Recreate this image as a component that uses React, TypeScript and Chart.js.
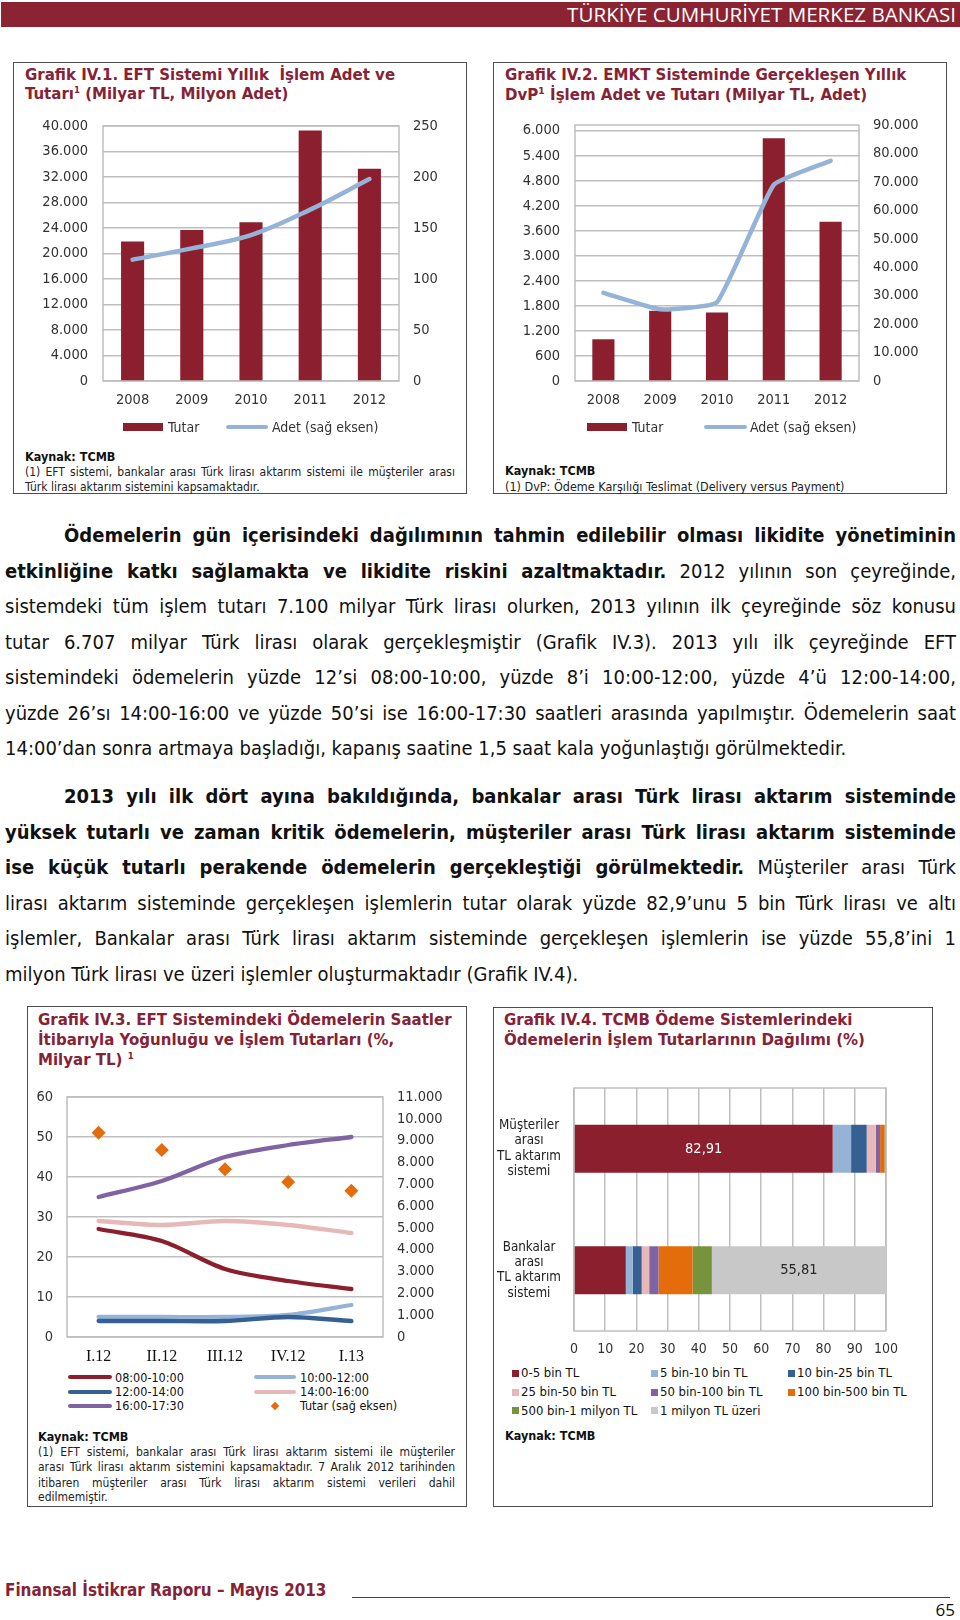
import React, { useEffect, useRef } from 'react';
import { Chart, registerables } from 'chart.js';

Chart.register(...registerables);

// ---------- data ----------
const eftYears = ['2008', '2009', '2010', '2011', '2012'];
const eftTutar = [21900, 23700, 24900, 39300, 33300];
const eftAdet = [119, 130, 143, 168, 198];

const dvpYears = ['2008', '2009', '2010', '2011', '2012'];
const dvpTutar = [1000, 1685, 1640, 5820, 3820];
const dvpAdet = [31000, 25200, 27700, 69000, 77400];
const dvpLeftTicks = [0, 600, 1200, 1800, 2400, 3000, 3600, 4200, 4800, 5400, 6000];

const quarters = ['I.12', 'II.12', 'III.12', 'IV.12', 'I.13'];
const h0810 = [27, 24, 17, 14, 12];
const h1012 = [5, 5, 5, 5.5, 8];
const h1214 = [4, 4, 4, 5, 4];
const h1416 = [29, 28, 29, 28, 26];
const h1617 = [35, 39, 45, 48, 50];
const eftQuarterTutar = [9360, 8570, 7690, 7100, 6707];

const systemLabels = [
  ['Müşteriler', 'arası', 'TL aktarım', 'sistemi'],
  ['Bankalar', 'arası', 'TL aktarım', 'sistemi'],
];
const bandNames = [
  '0-5 bin TL', '5 bin-10 bin TL', '10 bin-25 bin TL', '25 bin-50 bin TL',
  '50 bin-100 bin TL', '100 bin-500 bin TL', '500 bin-1 milyon TL', '1 milyon TL üzeri',
];
const musteriShares = [82.91, 5.9, 5.0, 2.9, 1.4, 1.4, 0.25, 0.24];
const bankalarShares = [16.6, 2.2, 2.9, 2.4, 3.0, 10.9, 6.19, 55.81];

// ---------- styles ----------
const F = "'DejaVu Sans Condensed', 'DejaVu Sans', sans-serif";
const SERIF = "'Liberation Serif', 'DejaVu Serif', serif";
const MAROON = '#8C1F2E';
const TITLE = '#862236';
const LBLUE = '#95B3D7';
const DBLUE = '#376092';
const PINK = '#E6B9B8';
const PURPLE = '#8064A2';
const ORANGE = '#E46C0A';
const GREEN = '#77933C';
const LGRAY = '#C8C8C8';
const GRID = '#BFBFBF';
const TICK = '#333333';
const bandColors = [MAROON, LBLUE, DBLUE, PINK, PURPLE, ORANGE, GREEN, LGRAY];

const fmtTR = (v: any) => String(v).replace(/\B(?=(\d{3})+(?!\d))/g, '.');

const framePlugin = {
  id: 'frame',
  beforeDatasetsDraw(chart: any) {
    const { ctx, chartArea } = chart;
    ctx.save();
    ctx.strokeStyle = GRID;
    ctx.lineWidth = 1.5;
    ctx.strokeRect(chartArea.left, chartArea.top, chartArea.right - chartArea.left, chartArea.bottom - chartArea.top);
    ctx.restore();
  },
};

const segLabelPlugin = {
  id: 'segLabels',
  afterDatasetsDraw(chart: any) {
    const ctx = chart.ctx;
    ctx.save();
    ctx.font = `14.5px ${F}`;
    ctx.textAlign = 'center';
    ctx.textBaseline = 'middle';
    chart.data.datasets.forEach((ds: any, di: number) => {
      const meta = chart.getDatasetMeta(di);
      meta.data.forEach((el: any, i: number) => {
        const v = ds.data[i];
        if (v < 50) return;
        const p = el.getProps(['x', 'base', 'y'], true);
        ctx.fillStyle = di === 0 ? '#FFFFFF' : '#262626';
        ctx.fillText(v.toFixed(2).replace('.', ','), (p.x + p.base) / 2, p.y);
      });
    });
    ctx.restore();
  },
};

const tickFont = (size: number, family = F) => ({ family, size });
const fitV = (w: number) => (s: any) => { s.width = w; s.paddingTop = 0; s.paddingBottom = 0; };
const fitH = (h: number) => (s: any) => { s.height = h; s.paddingLeft = 0; s.paddingRight = 0; };

function eftConfig(): any {
  return {
    type: 'bar',
    data: {
      labels: eftYears,
      datasets: [
        { type: 'line', label: 'Adet (sağ eksen)', data: eftAdet, yAxisID: 'yR', borderColor: LBLUE, borderWidth: 4.5, tension: 0.35, pointRadius: 0, borderCapStyle: 'round', order: 0 },
        { type: 'bar', label: 'Tutar', data: eftTutar, yAxisID: 'yL', backgroundColor: MAROON, barPercentage: 0.39, categoryPercentage: 1, order: 1 },
      ],
    },
    options: {
      animation: false, responsive: false,
      layout: { padding: { top: 16, left: 0, right: 0, bottom: 0 } },
      plugins: { legend: { display: false }, tooltip: { enabled: false } },
      scales: {
        x: { grid: { display: false, drawTicks: false }, border: { display: false }, ticks: { font: tickFont(14.5), color: TICK, padding: 11 }, afterFit: fitH(39) },
        yL: { position: 'left', min: 0, max: 40000, ticks: { stepSize: 4000, callback: fmtTR, font: tickFont(14.5), color: TICK, padding: 15 }, grid: { color: GRID, lineWidth: 1.5, drawTicks: false }, border: { display: false }, afterFit: fitV(83) },
        yR: { position: 'right', min: 0, max: 250, ticks: { stepSize: 50, font: tickFont(14.5), color: TICK, padding: 14 }, grid: { display: false, drawTicks: false }, border: { display: false }, afterFit: fitV(61) },
      },
    },
    plugins: [framePlugin],
  };
}

function dvpConfig(): any {
  return {
    type: 'bar',
    data: {
      labels: dvpYears,
      datasets: [
        { type: 'line', label: 'Adet (sağ eksen)', data: dvpAdet, yAxisID: 'yR', borderColor: LBLUE, borderWidth: 4.5, tension: 0.12, pointRadius: 0, borderCapStyle: 'round', order: 0 },
        { type: 'bar', label: 'Tutar', data: dvpTutar, yAxisID: 'yL', backgroundColor: MAROON, barPercentage: 0.39, categoryPercentage: 1, order: 1 },
      ],
    },
    options: {
      animation: false, responsive: false,
      layout: { padding: { top: 15, left: 0, right: 0, bottom: 0 } },
      plugins: { legend: { display: false }, tooltip: { enabled: false } },
      scales: {
        x: { grid: { display: false, drawTicks: false }, border: { display: false }, ticks: { font: tickFont(14.5), color: TICK, padding: 11 }, afterFit: fitH(39) },
        yL: {
          position: 'left', min: 0, max: 6137,
          ticks: { callback: fmtTR, font: tickFont(14.5), color: TICK, padding: 15 },
          afterBuildTicks: (s: any) => { s.ticks = dvpLeftTicks.map((v) => ({ value: v })); },
          grid: { color: GRID, lineWidth: 1.5, drawTicks: false }, border: { display: false },
          afterFit: fitV(75),
        },
        yR: { position: 'right', min: 0, max: 90000, ticks: { stepSize: 10000, callback: fmtTR, font: tickFont(14.5), color: TICK, padding: 14 }, grid: { display: false, drawTicks: false }, border: { display: false }, afterFit: fitV(81) },
      },
    },
    plugins: [framePlugin],
  };
}

function hoursConfig(): any {
  const line = (label: string, data: number[], color: string) => ({
    type: 'line', label, data, yAxisID: 'yL', borderColor: color, backgroundColor: color,
    borderWidth: 4.3, tension: 0.3, pointRadius: 0, borderCapStyle: 'round', fill: false,
  });
  return {
    type: 'line',
    data: {
      labels: quarters,
      datasets: [
        { type: 'line', label: 'Tutar (sağ eksen)', data: eftQuarterTutar, yAxisID: 'yR', showLine: false, pointStyle: 'rectRot', pointRadius: 7, pointBorderWidth: 0, backgroundColor: ORANGE, borderColor: ORANGE },
        line('16:00-17:30', h1617, PURPLE),
        line('14:00-16:00', h1416, PINK),
        line('12:00-14:00', h1214, DBLUE),
        line('10:00-12:00', h1012, LBLUE),
        line('08:00-10:00', h0810, MAROON),
      ],
    },
    options: {
      animation: false, responsive: false,
      layout: { padding: { top: 17, left: 0, right: 0, bottom: 0 } },
      plugins: { legend: { display: false }, tooltip: { enabled: false } },
      scales: {
        x: { offset: true, grid: { display: false, drawTicks: false }, border: { display: false }, ticks: { font: tickFont(16, SERIF), color: '#111', padding: 10 }, afterFit: fitH(33) },
        yL: { position: 'left', min: 0, max: 60, ticks: { stepSize: 10, font: tickFont(14.5), color: TICK, padding: 14 }, grid: { color: GRID, lineWidth: 1.5, drawTicks: false }, border: { display: false }, afterFit: fitV(37) },
        yR: { position: 'right', min: 0, max: 11000, ticks: { stepSize: 1000, callback: fmtTR, font: tickFont(14.5), color: TICK, padding: 14 }, grid: { display: false, drawTicks: false }, border: { display: false }, afterFit: fitV(77) },
      },
    },
    plugins: [framePlugin],
  };
}

function sharesConfig(): any {
  return {
    type: 'bar',
    data: {
      labels: systemLabels,
      datasets: bandNames.map((name, i) => ({
        label: name, data: [musteriShares[i], bankalarShares[i]], backgroundColor: bandColors[i],
        barPercentage: 0.395, categoryPercentage: 1,
      })),
    },
    options: {
      indexAxis: 'y',
      animation: false, responsive: false,
      layout: { padding: { top: 18, left: 0, right: 40, bottom: 0 } },
      plugins: { legend: { display: false }, tooltip: { enabled: false } },
      scales: {
        x: { stacked: true, min: 0, max: 100, ticks: { stepSize: 10, font: tickFont(14), color: TICK, padding: 10 }, grid: { color: GRID, lineWidth: 1.5, drawTicks: false }, border: { display: false }, afterFit: fitH(34) },
        y: { stacked: true, grid: { display: false, drawTicks: false }, border: { display: false }, ticks: { font: { family: F, size: 13.3, lineHeight: 1.16 }, color: '#222', crossAlign: 'center', padding: 13 }, afterFit: fitV(78) },
      },
    },
    plugins: [framePlugin, segLabelPlugin],
  };
}

// ---------- components ----------
function ChartCanvas({ make, left, top, width, height }: { make: () => any; left: number; top: number; width: number; height: number }) {
  const ref = useRef<HTMLCanvasElement | null>(null);
  useEffect(() => {
    if (!ref.current) return;
    const ch = new Chart(ref.current, make());
    return () => ch.destroy();
  }, []);
  return <canvas ref={ref} width={width} height={height} style={{ position: 'absolute', left, top, width, height }} />;
}

const Txt = ({ x, y, size, children, bold = false, color = '#222', lh = 18, family = F }: any) => (
  <div style={{ position: 'absolute', left: x, top: y - lh / 2, lineHeight: lh + 'px', height: lh, fontSize: size, fontWeight: bold ? 'bold' : 'normal', color, fontFamily: family, whiteSpace: 'nowrap' }}>{children}</div>
);

const JLine = ({ x, y, w, size, children, last = false, lh = 18, color = '#222' }: any) => (
  <div style={{ position: 'absolute', left: x, top: y - lh / 2, width: w, height: lh, lineHeight: lh + 'px', fontSize: size, color, whiteSpace: last ? 'nowrap' : 'normal', textAlign: last ? 'left' : 'justify', textAlignLast: last ? 'left' : 'justify' } as any}>{children}</div>
);

const Sup = ({ children }: any) => <span style={{ fontSize: 9.5, position: 'relative', top: -6, lineHeight: 0 }}>{children}</span>;

const RectSw = ({ x, y, w, h, color }: any) => <div style={{ position: 'absolute', left: x, top: y - h / 2, width: w, height: h, background: color }} />;
const LineSw = ({ x, y, w, color, t = 4 }: any) => <div style={{ position: 'absolute', left: x, top: y - t / 2, width: w, height: t, background: color, borderRadius: t / 2 }} />;

const Box = ({ x, y, w, h }: any) => <div style={{ position: 'absolute', left: x, top: y, width: w, height: h, border: '1.5px solid #4D4D4D', boxSizing: 'border-box' }} />;

const B = ({ children }: any) => <b>{children}</b>;

export default function App() {
  const bodySize = 20;
  const p1 = [535, 570.5, 606, 641.5, 677, 712.5, 748];
  const p2 = [796, 831.5, 867, 902.5, 938, 973.5];
  const tSize = 16.7;
  const fn = 12.5;
  const fj = 12;
  const bc = '#111';
  return (
    <div style={{ position: 'absolute', left: 0, top: 0, width: 960, height: 1620, background: '#fff', fontFamily: F, overflow: 'hidden' }}>
      {/* banner */}
      <div style={{ position: 'absolute', left: 1, top: 2, width: 959, height: 25, background: '#8B2332' }} />
      <div style={{ position: 'absolute', right: 4, top: 2, height: 25, lineHeight: '25px', color: '#fff', fontFamily: "'Open Sans', sans-serif", fontSize: 20.6, whiteSpace: 'nowrap' }}>TÜRKİYE CUMHURİYET MERKEZ BANKASI</div>

      {/* Box 1 */}
      <Box x={13} y={62} w={454} h={432} />
      <Txt x={25} y={74} size={tSize} bold color={TITLE} lh={20}>Grafik IV.1. EFT Sistemi Yıllık&nbsp; İşlem Adet ve</Txt>
      <Txt x={25} y={93} size={tSize} bold color={TITLE} lh={20}>Tutarı<Sup>1</Sup> (Milyar TL, Milyon Adet)</Txt>
      <ChartCanvas make={eftConfig} left={20} top={110} width={440} height={310} />
      <RectSw x={123} y={427} w={40} h={8} color={MAROON} />
      <Txt x={168} y={427} size={14} color={TICK}>Tutar</Txt>
      <LineSw x={226} y={427} w={42} color={LBLUE} />
      <Txt x={272} y={427} size={14} color={TICK}>Adet (sağ eksen)</Txt>
      <Txt x={25} y={457} size={fn} bold color={bc}>Kaynak: TCMB</Txt>
      <JLine x={25} y={472} w={430} size={fj} lh={15}>(1) EFT sistemi, bankalar arası Türk lirası aktarım sistemi ile müşteriler arası</JLine>
      <JLine x={25} y={487} w={430} size={fj} lh={15} last>Türk lirası aktarım sistemini kapsamaktadır.</JLine>

      {/* Box 2 */}
      <Box x={493} y={62} w={454} h={432} />
      <Txt x={505} y={74} size={tSize} bold color={TITLE} lh={20}>Grafik IV.2. EMKT Sisteminde Gerçekleşen Yıllık</Txt>
      <Txt x={505} y={93.5} size={tSize} bold color={TITLE} lh={20}>DvP¹ İşlem Adet ve Tutarı (Milyar TL, Adet)</Txt>
      <ChartCanvas make={dvpConfig} left={500} top={110} width={440} height={310} />
      <RectSw x={587} y={427} w={40} h={8} color={MAROON} />
      <Txt x={632} y={427} size={14} color={TICK}>Tutar</Txt>
      <LineSw x={704} y={427} w={43} color={LBLUE} />
      <Txt x={750} y={427} size={14} color={TICK}>Adet (sağ eksen)</Txt>
      <Txt x={505} y={470.5} size={fn} bold color={bc}>Kaynak: TCMB</Txt>
      <Txt x={505} y={486} size={fn} lh={15}>(1) DvP: Ödeme Karşılığı Teslimat (Delivery versus Payment)</Txt>

      {/* Body text paragraph 1 */}
      <JLine x={64} y={p1[0]} w={892} size={bodySize} lh={24} color={bc}><B>Ödemelerin gün içerisindeki dağılımının tahmin edilebilir olması likidite yönetiminin</B></JLine>
      <JLine x={5} y={p1[1]} w={951} size={bodySize} lh={24} color={bc}><B>etkinliğine katkı sağlamakta ve likidite riskini azaltmaktadır.</B> 2012 yılının son çeyreğinde,</JLine>
      <JLine x={5} y={p1[2]} w={951} size={bodySize} lh={24} color={bc}>sistemdeki tüm işlem tutarı 7.100 milyar Türk lirası olurken, 2013 yılının ilk çeyreğinde söz konusu</JLine>
      <JLine x={5} y={p1[3]} w={951} size={bodySize} lh={24} color={bc}>tutar 6.707 milyar Türk lirası olarak gerçekleşmiştir (Grafik IV.3). 2013 yılı ilk çeyreğinde EFT</JLine>
      <JLine x={5} y={p1[4]} w={951} size={bodySize} lh={24} color={bc}>sistemindeki ödemelerin yüzde 12’si 08:00-10:00, yüzde 8’i 10:00-12:00, yüzde 4’ü 12:00-14:00,</JLine>
      <JLine x={5} y={p1[5]} w={951} size={bodySize} lh={24} color={bc}>yüzde 26’sı 14:00-16:00 ve yüzde 50’si ise 16:00-17:30 saatleri arasında yapılmıştır. Ödemelerin saat</JLine>
      <JLine x={5} y={p1[6]} w={951} size={bodySize} lh={24} color={bc} last>14:00’dan sonra artmaya başladığı, kapanış saatine 1,5 saat kala yoğunlaştığı görülmektedir.</JLine>

      {/* Body text paragraph 2 */}
      <JLine x={64} y={p2[0]} w={892} size={bodySize} lh={24} color={bc}><B>2013 yılı ilk dört ayına bakıldığında, bankalar arası Türk lirası aktarım sisteminde</B></JLine>
      <JLine x={5} y={p2[1]} w={951} size={bodySize} lh={24} color={bc}><B>yüksek tutarlı ve zaman kritik ödemelerin, müşteriler arası Türk lirası aktarım sisteminde</B></JLine>
      <JLine x={5} y={p2[2]} w={951} size={bodySize} lh={24} color={bc}><B>ise küçük tutarlı perakende ödemelerin gerçekleştiği görülmektedir.</B> Müşteriler arası Türk</JLine>
      <JLine x={5} y={p2[3]} w={951} size={bodySize} lh={24} color={bc}>lirası aktarım sisteminde gerçekleşen işlemlerin tutar olarak yüzde 82,9’unu 5 bin Türk lirası ve altı</JLine>
      <JLine x={5} y={p2[4]} w={951} size={bodySize} lh={24} color={bc}>işlemler, Bankalar arası Türk lirası aktarım sisteminde gerçekleşen işlemlerin ise yüzde 55,8’ini 1</JLine>
      <JLine x={5} y={p2[5]} w={951} size={bodySize} lh={24} color={bc} last>milyon Türk lirası ve üzeri işlemler oluşturmaktadır (Grafik IV.4).</JLine>

      {/* Box 3 */}
      <Box x={27} y={1006} w={440} h={501} />
      <Txt x={38} y={1018.5} size={tSize} bold color={TITLE} lh={20}>Grafik IV.3. EFT Sistemindeki Ödemelerin Saatler</Txt>
      <Txt x={38} y={1038.5} size={tSize} bold color={TITLE} lh={20}>İtibarıyla Yoğunluğu ve İşlem Tutarları (%,</Txt>
      <Txt x={38} y={1058.5} size={tSize} bold color={TITLE} lh={20}>Milyar TL) <Sup>1</Sup></Txt>
      <ChartCanvas make={hoursConfig} left={30} top={1080} width={430} height={290} />
      <LineSw x={68} y={1377} w={44} color={MAROON} />
      <Txt x={115} y={1377} size={12.5} color="#111" lh={15}>08:00-10:00</Txt>
      <LineSw x={254} y={1377} w={42} color={LBLUE} />
      <Txt x={300} y={1377} size={12.5} color="#111" lh={15}>10:00-12:00</Txt>
      <LineSw x={68} y={1391.5} w={44} color={DBLUE} />
      <Txt x={115} y={1391.5} size={12.5} color="#111" lh={15}>12:00-14:00</Txt>
      <LineSw x={254} y={1391.5} w={42} color={PINK} />
      <Txt x={300} y={1391.5} size={12.5} color="#111" lh={15}>14:00-16:00</Txt>
      <LineSw x={68} y={1405.5} w={44} color={PURPLE} />
      <Txt x={115} y={1405.5} size={12.5} color="#111" lh={15}>16:00-17:30</Txt>
      <div style={{ position: 'absolute', left: 272, top: 1402.5, width: 6, height: 6, background: ORANGE, transform: 'rotate(45deg)' }} />
      <Txt x={300} y={1405.5} size={12.5} color="#111" lh={15}>Tutar (sağ eksen)</Txt>
      <Txt x={38} y={1437} size={fn} bold color={bc}>Kaynak: TCMB</Txt>
      <JLine x={38} y={1452} w={417} size={fj} lh={15}>(1) EFT sistemi, bankalar arası Türk lirası aktarım sistemi ile müşteriler</JLine>
      <JLine x={38} y={1467.5} w={417} size={fj} lh={15}>arası Türk lirası aktarım sistemini kapsamaktadır. 7 Aralık 2012 tarihinden</JLine>
      <JLine x={38} y={1483} w={417} size={fj} lh={15}>itibaren müşteriler arası Türk lirası aktarım sistemi verileri dahil</JLine>
      <JLine x={38} y={1497.5} w={417} size={fj} lh={15} last>edilmemiştir.</JLine>

      {/* Box 4 */}
      <Box x={493} y={1007} w={440} h={500} />
      <Txt x={504} y={1018.5} size={tSize} bold color={TITLE} lh={20}>Grafik IV.4. TCMB Ödeme Sistemlerindeki</Txt>
      <Txt x={504} y={1038.5} size={tSize} bold color={TITLE} lh={20}>Ödemelerin İşlem Tutarlarının Dağılımı (%)</Txt>
      <ChartCanvas make={sharesConfig} left={496} top={1070} width={430} height={295} />
      {bandNames.map((name, i) => {
        const col = i % 3;
        const row = Math.floor(i / 3);
        const sx = [512, 651, 788][col];
        const y = [1373, 1392, 1410.5][row];
        return (
          <React.Fragment key={name}>
            <RectSw x={sx} y={y} w={7} h={7} color={bandColors[i]} />
            <Txt x={sx + 9} y={y} size={13} color="#111" lh={16}>{name}</Txt>
          </React.Fragment>
        );
      })}
      <Txt x={505} y={1436} size={fn} bold color={bc}>Kaynak: TCMB</Txt>

      {/* footer */}
      <Txt x={5} y={1590} size={16.9} bold color={TITLE} lh={20}>Finansal İstikrar Raporu – Mayıs 2013</Txt>
      <div style={{ position: 'absolute', left: 352, top: 1596.5, width: 598, height: 1.5, background: '#8B2332' }} />
      <div style={{ position: 'absolute', right: 5, top: 1600, lineHeight: '20px', fontSize: 17, fontFamily: "'Open Sans', sans-serif", color: '#111' }}>65</div>
    </div>
  );
}
